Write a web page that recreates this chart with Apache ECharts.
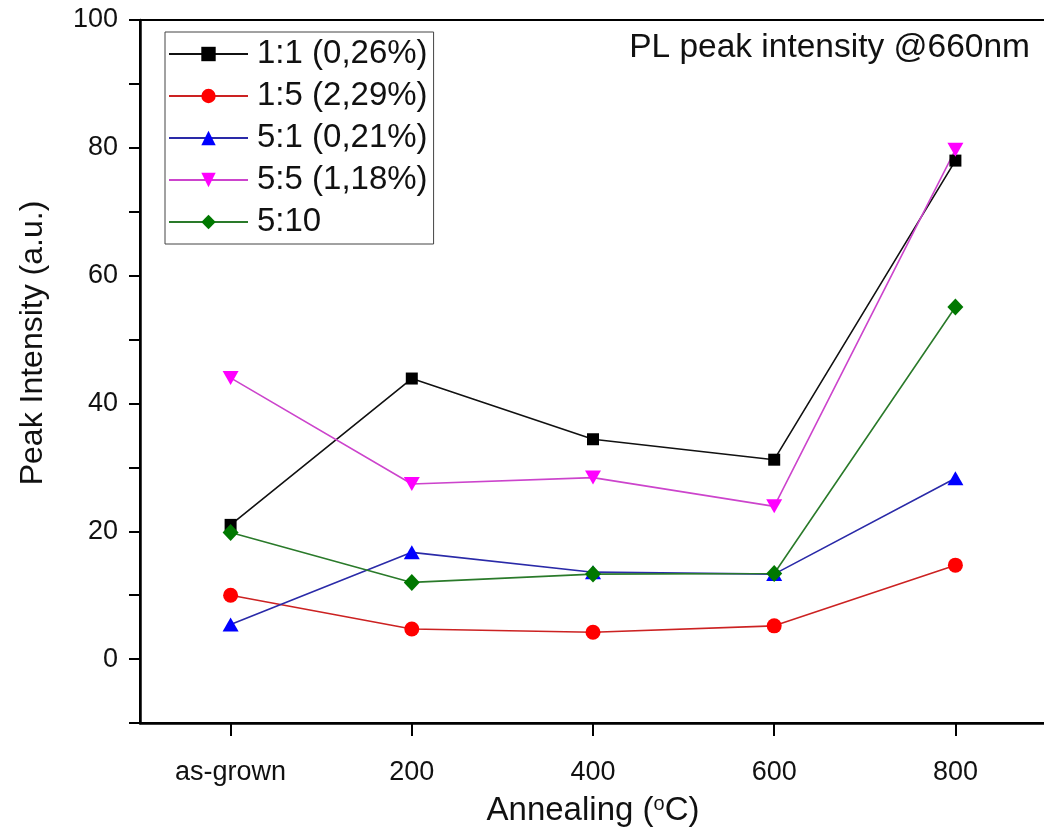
<!DOCTYPE html>
<html>
<head>
<meta charset="utf-8">
<script src="https://cdn.jsdelivr.net/npm/echarts@6/dist/echarts.min.js"></script>
<style>
  html, body { margin: 0; padding: 0; background: #fff; }
  #chart { width: 1044px; height: 830px; }
</style>
</head>
<body>
<div id="chart"></div>
<script>
// Annealing steps (x categories)
const categories = ['as-grown', '200', '400', '600', '800'];

// PL peak intensity at 660 nm for each sample (a.u.)
const ratio11 = [21.0, 43.9, 34.4, 31.2, 78.0];
const ratio15 = [10.0, 4.7, 4.2, 5.2, 14.7];
const ratio51 = [5.4, 16.7, 13.6, 13.3, 28.3];
const ratio55 = [44.0, 27.4, 28.4, 23.9, 79.7];
const ratio510 = [19.8, 12.0, 13.3, 13.4, 55.1];

const seriesNames = ['1:1 (0,26%)', '1:5 (2,29%)', '5:1 (0,21%)', '5:5 (1,18%)', '5:10'];

// Y axis range and labelled ticks
const yMin = -10, yMax = 100, yStep = 10;
const yLabelStep = 20;

const FONT = '"Liberation Sans", Arial, sans-serif';
const downTriangle = 'path://M0,0 L10,0 L5,9 Z';

function makeSeries(name, data, lineColor, markColor, symbol, size) {
  return {
    name: name,
    type: 'line',
    data: data,
    symbol: symbol,
    symbolSize: size,
    showSymbol: true,
    lineStyle: { color: lineColor, width: 1.6 },
    itemStyle: { color: markColor, borderWidth: 0 },
    emphasis: { disabled: true },
    animation: false
  };
}

const chart = echarts.init(document.getElementById('chart'), null, { renderer: 'canvas' });

chart.setOption({
  backgroundColor: '#ffffff',
  animation: false,
  grid: {
    left: 140, top: 20, right: -2, bottom: 107,
    outerBoundsMode: 'none',
    containLabel: false,
    show: true, borderColor: '#000', borderWidth: 2, backgroundColor: 'transparent'
  },
  legend: {
    orient: 'vertical',
    left: 165, top: 32,
    padding: [4, 6, 4, 3],
    borderColor: '#444', borderWidth: 1,
    itemWidth: 79, itemHeight: 18, itemGap: 6,
    textStyle: { fontFamily: FONT, fontSize: 33, color: '#111', lineHeight: 36, padding: [0, 0, 0, 4] },
    data: seriesNames
  },
  xAxis: {
    type: 'category',
    data: categories,
    boundaryGap: true,
    name: 'Annealing ({sup|o}C)',
    nameLocation: 'middle',
    nameGap: 71,
    nameTextStyle: {
      fontFamily: FONT, fontSize: 33, color: '#111',
      rich: {
        sup: { fontFamily: FONT, fontSize: 20, color: '#111', verticalAlign: 'top', padding: [0, 0, 14, 0] }
      }
    },
    axisLine: { show: true, onZero: false, lineStyle: { color: '#000', width: 2.5 } },
    axisTick: { show: true, alignWithLabel: true, length: 13, lineStyle: { color: '#000', width: 2 } },
    axisLabel: { fontFamily: FONT, fontSize: 27, color: '#111', margin: 36 },
    splitLine: { show: false }
  },
  yAxis: {
    type: 'value',
    min: yMin, max: yMax, interval: yStep,
    axisLine: { show: true, lineStyle: { color: '#000', width: 2.5 } },
    axisTick: { show: true, length: 11, lineStyle: { color: '#000', width: 2 } },
    axisLabel: {
      fontFamily: FONT, fontSize: 27, color: '#111', margin: 22,
      formatter: function (v) {
        return (v >= 0 && v % yLabelStep === 0) ? String(v) : '';
      }
    },
    splitLine: { show: false }
  },
  graphic: [
    {
      type: 'text',
      x: 33, y: 343,
      rotation: Math.PI / 2,
      style: {
        text: 'Peak Intensity (a.u.)',
        fontFamily: FONT, fontSize: 32, fill: '#111',
        textAlign: 'center', textVerticalAlign: 'middle'
      }
    },
    {
      type: 'text',
      right: 14, top: 31,
      style: {
        text: 'PL peak intensity @660nm',
        fontFamily: FONT, fontSize: 33.5, fill: '#111'
      }
    }
  ],
  series: [
    makeSeries(seriesNames[0], ratio11, '#111111', '#000000', 'rect', 12),
    makeSeries(seriesNames[1], ratio15, '#cc2222', '#ff0000', 'circle', 15),
    makeSeries(seriesNames[2], ratio51, '#2a2aa8', '#0000ff', 'triangle', [16, 14]),
    makeSeries(seriesNames[3], ratio55, '#cc44cc', '#ff00ff', downTriangle, [16, 14]),
    makeSeries(seriesNames[4], ratio510, '#2a7a2a', '#007800', 'diamond', [16, 17])
  ]
});
</script>
</body>
</html>
